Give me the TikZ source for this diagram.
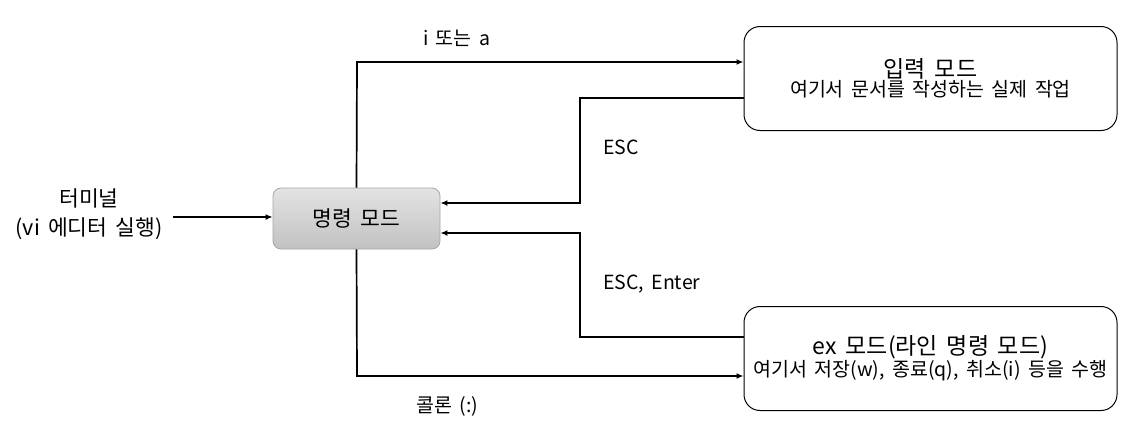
\documentclass[tikz,border=0pt]{standalone}
\usepackage{fontspec}
\setmainfont[WordSpace=1.7]{Noto Sans CJK KR}
\usetikzlibrary{arrows.meta}
\begin{document}
\begin{tikzpicture}[x=1pt,y=-1pt,
  conn/.style={line width=1.7pt,-{Latex[length=7pt,width=6pt]}},
  modebox/.style={draw=black,line width=1pt,rounded corners=16pt,minimum width=373pt,minimum height=104pt,align=center,inner sep=0pt},
  cmdbox/.style={draw=gray!70,line width=0.8pt,rounded corners=8pt,minimum width=167pt,minimum height=61pt,top color=gray!22,bottom color=gray!48,inner sep=0pt},
  lbl/.style={font=\fontsize{19.5}{22}\selectfont,inner sep=0pt,anchor=west}]
\useasboundingbox (0,0) rectangle (1143,440);
\node[cmdbox] (cmd) at (356.5,218.5) {\fontsize{21.5}{24}\selectfont 명령 모드};
\node[modebox] (inp) at (930.5,78.5) {\fontsize{23}{26}\selectfont 입력 모드\\\fontsize{19.5}{23.5}\selectfont 여기서 문서를 작성하는 실제 작업};
\node[modebox] (ex) at (930.5,358.5) {\fontsize{23}{26}\selectfont ex 모드(라인 명령 모드)\\\fontsize{19.5}{23.5}\selectfont 여기서 저장(w), 종료(q), 취소(i) 등을 수행};
\node[align=center,font=\fontsize{21.5}{29}\selectfont,inner sep=0pt] (term) at (89,214) {터미널\\(vi 에디터 실행)};
\coordinate (termend) at (173,217);
\draw[conn] (termend) -- (cmd.west |- termend);
\draw[conn] (cmd.north) -- (357,62) -- (inp.west |- 0,62);
\draw[conn] (inp.west |- 0,98) -- (580,98) -- (580,203) -- (cmd.east |- 0,203);
\draw[conn] (ex.west |- 0,337) -- (580,337) -- (580,233) -- (cmd.east |- 0,233);
\draw[conn] (cmd.south) -- (357,376) -- (ex.west |- 0,376);
\node[lbl] (la) at (423,38) {i 또는 a};
\node[lbl] (lb) at (603,147) {ESC};
\node[lbl] (lc) at (603,284) {ESC, Enter};
\node[lbl] (ld) at (416,406) {콜론 (:)};
\end{tikzpicture}
\end{document}
